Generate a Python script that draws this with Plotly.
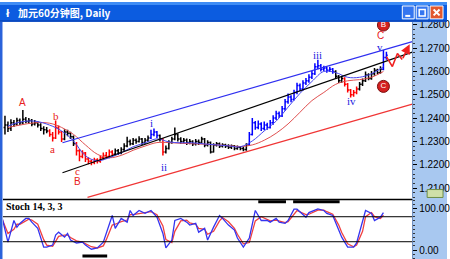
import plotly.graph_objects as go

# ---------------- DATA (prices in 1/10000, i.e. 12345 -> 1.2345) ----------------
OPEN = [12360,12370,12355,12380,12375,12390,12380,12395,12385,12390,
        12375,12380,12370,12355,12350,12345,12330,12315,12360,12340,
        12310,12340,12335,12320,12290,12260,12235,12250,12225,12215,
        12210,12220,12215,12230,12240,12235,12255,12245,12260,12250,
        12265,12280,12300,12290,12305,12300,12310,12295,12305,12315,
        12330,12340,12325,12310,12255,12270,12295,12310,12330,12310,
        12300,12305,12295,12300,12290,12300,12295,12310,12285,12295,
        12255,12285,12290,12280,12285,12280,12275,12280,12270,12275,
        12270,12265,12285,12330,12380,12360,12375,12355,12370,12360,
        12380,12400,12420,12410,12440,12470,12490,12480,12510,12540,
        12525,12550,12560,12575,12590,12620,12625,12610,12615,12605,
        12610,12600,12580,12560,12570,12545,12520,12500,12510,12525,
        12545,12560,12585,12570,12590,12605,12595,12610,12660]
HIGH = [12410,12385,12395,12392,12402,12398,12435,12405,12400,12396,
        12392,12388,12378,12365,12362,12352,12340,12390,12368,12345,
        12352,12350,12342,12325,12298,12268,12262,12255,12232,12222,
        12230,12228,12240,12252,12255,12265,12262,12270,12268,12275,
        12292,12320,12308,12315,12312,12322,12315,12315,12325,12350,
        12355,12345,12330,12315,12282,12305,12320,12360,12335,12318,
        12315,12312,12310,12305,12310,12308,12320,12315,12305,12300,
        12292,12298,12295,12292,12290,12288,12287,12285,12282,12280,
        12278,12292,12340,12400,12388,12390,12382,12385,12380,12392,
        12412,12432,12428,12452,12482,12505,12498,12522,12552,12548,
        12562,12572,12588,12602,12635,12650,12632,12625,12620,12620,
        12615,12605,12585,12582,12575,12550,12525,12520,12535,12555,
        12570,12600,12592,12602,12615,12612,12622,12692,12685]
LOW = [12330,12340,12345,12362,12368,12370,12375,12378,12375,12365,
       12368,12360,12345,12330,12335,12320,12300,12310,12330,12298,
       12305,12322,12310,12280,12240,12215,12228,12212,12202,12198,
       12202,12205,12208,12220,12225,12228,12235,12240,12242,12245,
       12258,12275,12282,12285,12290,12295,12285,12290,12298,12310,
       12322,12315,12300,12240,12248,12265,12290,12305,12300,12290,
       12292,12285,12288,12280,12282,12285,12290,12275,12278,12248,
       12252,12278,12272,12274,12272,12268,12268,12262,12264,12262,
       12258,12260,12280,12325,12350,12352,12345,12348,12350,12355,
       12372,12392,12400,12405,12432,12462,12468,12475,12502,12515,
       12518,12542,12552,12568,12585,12610,12600,12602,12595,12598,
       12590,12570,12550,12552,12535,12510,12488,12492,12502,12518,
       12538,12555,12562,12565,12582,12588,12590,12605,12650]
CLOSE = [12370,12355,12380,12375,12390,12380,12395,12385,12390,12375,
         12380,12370,12355,12350,12345,12330,12315,12360,12340,12310,
         12340,12335,12320,12290,12260,12235,12250,12225,12215,12210,
         12220,12215,12230,12240,12235,12255,12245,12260,12250,12265,
         12280,12300,12290,12305,12300,12310,12295,12305,12315,12330,
         12340,12325,12310,12255,12270,12295,12310,12330,12310,12300,
         12305,12295,12300,12290,12300,12295,12310,12285,12295,12255,
         12285,12290,12280,12285,12280,12275,12280,12270,12275,12270,
         12265,12285,12330,12380,12360,12375,12355,12370,12360,12380,
         12400,12420,12410,12440,12470,12490,12480,12510,12540,12525,
         12550,12560,12575,12590,12620,12625,12610,12615,12605,12610,
         12600,12580,12560,12570,12545,12520,12500,12510,12525,12545,
         12560,12585,12570,12590,12605,12595,12610,12660,12670]
# colour runs of the bars (k=black, r=red wave, b=blue wave)
BAR_RUNS = [("k", 15), ("r", 5), ("k", 4), ("r", 13), ("k", 12), ("b", 3), ("k", 1),
            ("r", 1), ("k", 28), ("b", 29), ("k", 3), ("r", 5), ("k", 8), ("b", 2)]

MA_X = [1,5,10,15,19,23,27,31,35,39,43,47,51,55,59,63,67,71,75,79,83,87,91,95,99,103,107,111,115,119,123,127]
MA_FAST = [12366,12383,12387,12370,12345,12302,12238,12217,12230,12251,12277,12294,12311,12298,12294,12294,
           12289,12285,12281,12277,12302,12345,12387,12447,12506,12557,12600,12595,12575,12575,12590,12620]
MA_SLOW = [12360,12370,12380,12378,12360,12330,12285,12245,12230,12240,12262,12280,12295,12295,12292,12290,
           12288,12285,12282,12278,12285,12305,12335,12375,12425,12475,12510,12545,12560,12565,12575,12600]

# channel / trend lines (bar index, price)
UPPER_X, UPPER_Y = [19.3, 136.7], [1.2294, 1.2728]
MIDDLE_X, MIDDLE_Y = [19.3, 136.7], [1.2166, 1.2683]
LOWER_X, LOWER_Y = [27.7, 136.7], [1.2060, 1.2460]
PROJ_X = [128, 130, 131.7, 133.3]
PROJ_Y = [1.2664, 1.2621, 1.2677, 1.2651]
PROJ_END = (135.8, 1.2717)

WAVE_TEXT = ["A", "b", "a", "c", "B", "C", "i", "ii", "iii", "iv", "v"]
WAVE_X = [6, 17, 16, 24.3, 24.3, 126, 49.3, 53.3, 105, 116.3, 126]
WAVE_Y = [1.2468, 1.2409, 1.2268, 1.2175, 1.2128, 1.2753, 1.2379, 1.2192, 1.2672, 1.2472, 1.2706]
WAVE_COLOR = ["#E82020"] * 6 + ["#1A1AE0"] * 5
CIRCLE_TEXT = ["B", "C"]
CIRCLE_X = [127, 127]
CIRCLE_Y = [1.2799, 1.2536]

STOCH_X = [-1,1,3,4,5,7,8,9,11,13,14,16,17,18,20,21,22,24,26,27,29,31,33,34,36,37,39,41,42,43,
           45,47,49,51,53,54,56,57,59,61,62,64,65,67,68,70,72,73,75,77,78,80,82,84,86,88,89,91,92,94,
           95,97,98,101,102,105,107,108,110,112,113,115,117,118,120,121,123,124,126,127]
STOCH_K = [79,19,71,55,64,76,76,67,52,7, 7,12,36,43,31,40,24,17,19,12, 2,5,19,40,83,52,76,67,95,83,
           95,88,95,79,40,5,24,71,76,67, 60,64,43,52,24,55,83,76,60,48, 29,7,29,95,71,71,67,76,67,64,
           71,98,98,79,90,99,95,88,83,48, 31,7,7,17,67,95,88,71,79,90]
STOCH_D = [75,40,50,62,62,70,74,72,62,25, 12,9,22,33,36,36,30,22,19,15, 8,5,10,25,60,62,68,72,85,85,
           88,90,92,85,58,25,18,45,70,72, 65,62,52,50,38,45,70,78,68,52, 38,15,18,70,80,72,70,72,70,66,
           68,88,95,85,86,96,96,92,86,60, 42,15,8,12,45,80,90,80,76,84]
STOCH_LEVELS = [80, 20]
# black signal bars in the stochastic pane (start, end, level)
SIGNAL_BARS = [(26, 34.3, -14), (85, 94.3, 116), (96.7, 112.3, 116)]

PRICE_TICKS = [1.21, 1.22, 1.23, 1.24, 1.25, 1.26, 1.27, 1.28]

# ---------------- FIGURE ----------------
W, H = 450, 259
def px(x):  # pixel -> paper x
    return x / W
def py(y):  # pixel -> paper y
    return (H - y) / H

fig = go.Figure()

bar_group = [g for g, n in BAR_RUNS for _ in range(n)]
colors = {"k": "#000000", "r": "#FF0000", "b": "#0000FF"}
for g, c in colors.items():
    idx = [i for i, ch in enumerate(bar_group) if ch == g]
    fig.add_trace(go.Ohlc(
        x=idx,
        open=[OPEN[i] / 1e4 for i in idx], high=[HIGH[i] / 1e4 for i in idx],
        low=[LOW[i] / 1e4 for i in idx], close=[CLOSE[i] / 1e4 for i in idx],
        increasing=dict(line=dict(color=c, width=1.5)),
        decreasing=dict(line=dict(color=c, width=1.5)),
        tickwidth=0.45, showlegend=False, hoverinfo="skip", xaxis="x", yaxis="y"))

fig.add_trace(go.Scatter(x=MA_X, y=[v / 1e4 for v in MA_SLOW], mode="lines",
                         line=dict(color="#E05050", width=1, shape="spline"), showlegend=False))
fig.add_trace(go.Scatter(x=MA_X, y=[v / 1e4 for v in MA_FAST], mode="lines",
                         line=dict(color="#4848F0", width=1, shape="spline"), showlegend=False))

for xs, ys, col in [(UPPER_X, UPPER_Y, "#2F2FF0"), (MIDDLE_X, MIDDLE_Y, "#000000"), (LOWER_X, LOWER_Y, "#F03535")]:
    fig.add_trace(go.Scatter(x=xs, y=ys, mode="lines", line=dict(color=col, width=1.1),
                             showlegend=False, cliponaxis=True))

fig.add_trace(go.Scatter(x=PROJ_X, y=PROJ_Y, mode="lines", line=dict(color="#F02020", width=1.6),
                         showlegend=False))
fig.add_annotation(x=PROJ_END[0], y=PROJ_END[1], ax=PROJ_X[-1], ay=PROJ_Y[-1], axref="x", ayref="y",
                   xref="x", yref="y", text="", showarrow=True, arrowhead=2, arrowsize=1.2,
                   arrowwidth=1.6, arrowcolor="#F02020")

for t, x, y, c in zip(WAVE_TEXT, WAVE_X, WAVE_Y, WAVE_COLOR):
    serif = t.islower()
    fig.add_annotation(x=x, y=y, xref="x", yref="y", text=t, showarrow=False,
                       font=dict(color=c, size=11 if serif else 10,
                                 family="Liberation Serif" if serif else "Liberation Sans"))

fig.add_trace(go.Scatter(x=CIRCLE_X, y=CIRCLE_Y, mode="markers+text", text=CIRCLE_TEXT,
                         textfont=dict(color="white", size=8, family="Liberation Sans"),
                         textposition="middle center",
                         marker=dict(size=12, color="#D42020", line=dict(color="#7A1010", width=1)),
                         showlegend=False, cliponaxis=False))

# stochastic pane
fig.add_trace(go.Scatter(x=STOCH_X, y=STOCH_D, mode="lines", line=dict(color="#F04040", width=1.3),
                         xaxis="x2", yaxis="y2", showlegend=False))
fig.add_trace(go.Scatter(x=STOCH_X, y=STOCH_K, mode="lines", line=dict(color="#3434F0", width=1.3),
                         xaxis="x2", yaxis="y2", showlegend=False))
for x0, x1, lvl in SIGNAL_BARS:
    fig.add_trace(go.Scatter(x=[x0, x1], y=[lvl, lvl], mode="lines", line=dict(color="black", width=3),
                             xaxis="x2", yaxis="y2", showlegend=False))

shapes = []
for lvl in STOCH_LEVELS:
    shapes.append(dict(type="line", xref="x2 domain", yref="y2", x0=0, x1=1, y0=lvl, y1=lvl,
                       line=dict(color="black", width=1)))
# right axis panel
shapes.append(dict(type="rect", xref="paper", yref="paper", x0=px(415), x1=1, y0=0, y1=py(20),
                   fillcolor="#A8C8F0", line=dict(width=0), layer="below"))
# separator between panes
shapes.append(dict(type="line", xref="paper", yref="paper", x0=px(3), x1=px(415), y0=py(199), y1=py(199),
                   line=dict(color="black", width=1.5)))
# left window frame
shapes.append(dict(type="rect", xref="paper", yref="paper", x0=0, x1=px(2.5), y0=0, y1=py(20),
                   fillcolor="#2A62DA", line=dict(width=0)))
# title bar
shapes.append(dict(type="rect", xref="paper", yref="paper", x0=0, x1=1, y0=py(20), y1=1,
                   fillcolor="#0C5CE0", line=dict(width=0)))
shapes.append(dict(type="rect", xref="paper", yref="paper", x0=0, x1=1, y0=py(3), y1=1,
                   fillcolor="#3F8CF5", line=dict(width=0)))
shapes.append(dict(type="rect", xref="paper", yref="paper", x0=0, x1=1, y0=py(20), y1=py(18.5),
                   fillcolor="#0844B8", line=dict(width=0)))
# window buttons
for x0, x1, col in [(405, 417, "#3576F0"), (419, 431, "#3576F0"), (433, 446, "#E2582E")]:
    shapes.append(dict(type="rect", xref="paper", yref="paper", x0=px(x0), x1=px(x1), y0=py(17), y1=py(4),
                       fillcolor=col, line=dict(color="white", width=1)))
shapes.append(dict(type="line", xref="paper", yref="paper", x0=px(408), x1=px(413), y0=py(14), y1=py(14),
                   line=dict(color="white", width=2)))
shapes.append(dict(type="rect", xref="paper", yref="paper", x0=px(422), x1=px(428), y0=py(14), y1=py(7.5),
                   line=dict(color="white", width=1.5)))
shapes.append(dict(type="line", xref="paper", yref="paper", x0=px(436.5), x1=px(442.5), y0=py(7.5), y1=py(13.5),
                   line=dict(color="white", width=2)))
shapes.append(dict(type="line", xref="paper", yref="paper", x0=px(436.5), x1=px(442.5), y0=py(13.5), y1=py(7.5),
                   line=dict(color="white", width=2)))
# small legend icon in axis panel
shapes.append(dict(type="rect", xref="paper", yref="paper", x0=px(430), x1=px(446), y0=py(197), y1=py(189),
                   fillcolor="#CFE0A8", line=dict(color="#6E8E48", width=1)))

fig.add_annotation(x=px(16), y=py(10.5), xref="paper", yref="paper", xanchor="left", yanchor="middle",
                   text="<b>加元60分钟图, Daily</b>", showarrow=False,
                   font=dict(color="white", size=10, family="Noto Sans CJK SC"))
fig.add_annotation(x=px(8), y=py(10.5), xref="paper", yref="paper", xanchor="center", yanchor="middle",
                   text="<b>ł</b>", showarrow=False, font=dict(color="white", size=11))
fig.add_annotation(x=px(4), y=py(206), xref="paper", yref="paper", xanchor="left", yanchor="middle",
                   text="<b>Stoch 14, 3, 3</b>", showarrow=False,
                   font=dict(color="black", size=10, family="Liberation Serif"))

XR = [-0.667, 136.667]
fig.update_layout(
    width=W, height=H, margin=dict(l=0, r=0, t=0, b=0),
    paper_bgcolor="white", plot_bgcolor="white",
    shapes=shapes,
    xaxis=dict(domain=[px(3), px(415)], range=XR, visible=False, rangeslider=dict(visible=False),
               anchor="y"),
    yaxis=dict(domain=[py(198), py(20)], range=[1.205532, 1.281277], side="right", anchor="x",
               tickvals=PRICE_TICKS, ticktext=[f"{v:.4f}" for v in PRICE_TICKS],
               ticks="outside", ticklen=4, tickcolor="black", showgrid=False, zeroline=False,
               showline=True, linecolor="#6F8FBF", linewidth=1,
               minor=dict(dtick=0.002, ticks="outside", ticklen=2, tickcolor="#333"),
               tickfont=dict(size=10, color="black", family="Liberation Sans")),
    xaxis2=dict(domain=[px(3), px(415)], range=XR, visible=False, anchor="y2"),
    yaxis2=dict(domain=[0, py(199)], range=[-21.43, 121.43], side="right", anchor="x2",
                tickvals=[0, 100], ticktext=["0.00", "100.00"], ticks="outside", ticklen=4,
                tickcolor="black", showgrid=False, zeroline=False, showline=True,
                linecolor="#6F8FBF", linewidth=1,
                minor=dict(dtick=10, ticks="outside", ticklen=2, tickcolor="#333"),
                tickfont=dict(size=10, color="black", family="Liberation Sans")),
)

fig.write_html("out.html")
